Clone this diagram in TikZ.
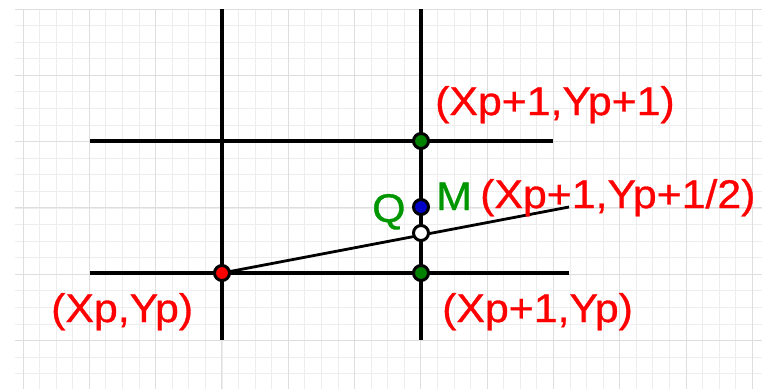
\documentclass[tikz,border=0pt]{standalone}
\usepackage{fontspec}
\newfontfamily\lab[FakeStretch=1.07,FakeBold=0.8]{Liberation Sans}
\begin{document}
\begin{tikzpicture}[x=1pt,y=-1pt,
  minorgrid/.style={draw=black!7,line width=0.8pt},
  majorgrid/.style={draw=black!13,line width=1pt},
  axisline/.style={draw=black,line width=3.2pt},
  pt/.style={circle,draw=black,line width=3pt,minimum size=15pt,inner sep=0pt},
  redlab/.style={font=\lab\fontsize{40}{42}\selectfont,text=red,anchor=base west,inner sep=0pt},
  greenlab/.style={font=\lab\fontsize{40}{42}\selectfont,text=labgreen,anchor=base west,inner sep=0pt}]
\definecolor{labgreen}{RGB}{0,150,0}
\definecolor{ptgreen}{RGB}{0,130,0}
\definecolor{ptblue}{RGB}{0,0,200}
\useasboundingbox (0,0) rectangle (762,389);
\fill[white] (0,0) rectangle (762,389);
% grid
\foreach \k in {0,...,44} {
  \pgfmathsetmacro{\gx}{23+\k*16.575}
  \draw[minorgrid] (\gx,9) -- (\gx,389);
}
\foreach \k in {0,...,22} {
  \pgfmathsetmacro{\gy}{9+\k*16.575}
  \draw[minorgrid] (15,\gy) -- (762,\gy);
}
\foreach \k in {0,...,11} {
  \pgfmathsetmacro{\gx}{23+\k*66.3}
  \draw[majorgrid] (\gx,9) -- (\gx,389);
}
\foreach \k in {0,...,5} {
  \pgfmathsetmacro{\gy}{9+\k*66.3}
  \draw[majorgrid] (15,\gy) -- (762,\gy);
}
% line end coordinates
\coordinate (v1t) at (222,9);
\coordinate (v1b) at (222,340);
\coordinate (v2t) at (421,9);
\coordinate (v2b) at (421,340);
\coordinate (h1l) at (90,141);
\coordinate (h1r) at (553,141);
\coordinate (h2l) at (90,273);
\coordinate (h2r) at (569,273);
\coordinate (send) at (569,207);
\coordinate (pc) at (222,273);
\draw[axisline] (v1t) -- (v1b);
\draw[axisline] (v2t) -- (v2b);
\draw[axisline] (h1l) -- (h1r);
\draw[axisline] (h2l) -- (h2r);
\draw[axisline,line width=2.8pt] (pc) -- (send);
% points
\node[pt,fill=red] (P) at (pc) {};
\node[pt,fill=ptgreen] (NE) at (421,141) {};
\node[pt,fill=ptgreen] (E) at (421,273) {};
\node[pt,fill=ptblue] (M) at (421,207) {};
\node[pt,fill=white] (Q) at (421,233) {};
% labels
\node[redlab] (lP) at (51,322) {(Xp,Yp)};
\node[redlab] (lE) at (442,322) {(Xp+1,Yp)};
\node[redlab] (lNE) at (435,115) {(Xp+1,Yp+1)};
\node[redlab] (lM) at (480,208) {(Xp+1,Yp+1/2)};
\node[greenlab] (tM) at (436,210) {M};
\node[greenlab] (tQ) at (372,222) {Q};
\end{tikzpicture}
\end{document}
